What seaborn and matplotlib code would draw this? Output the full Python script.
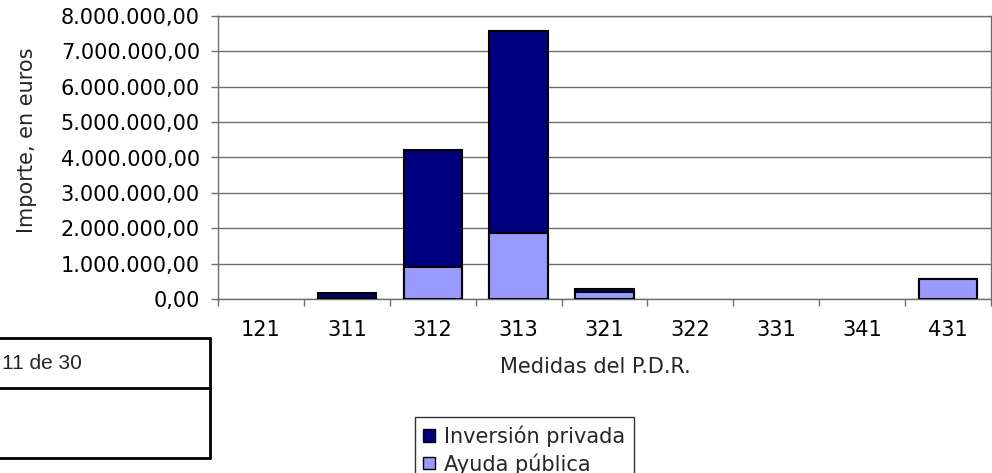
import numpy as np
import pandas as pd
import matplotlib
matplotlib.use("Agg")
import matplotlib.pyplot as plt
import seaborn as sns
from matplotlib.lines import Line2D
from matplotlib.patches import Patch
from matplotlib.ticker import FuncFormatter, FixedLocator

# Datos
medidas = ["121", "311", "312", "313", "321", "322", "331", "341", "431"]
ayuda_publica = [0, 30000, 912000, 1860000, 190000, 0, 0, 0, 556000]
inversion_privada = [0, 130000, 3300000, 5710000, 85000, 0, 0, 0, 0]

COLOR_PRIVADA = "#000080"
COLOR_AYUDA = "#9999FF"
GRIS = "#6e6e6e"
FS = 15

sns.set_theme(style="white")
plt.rcParams["font.family"] = ["DejaVu Sans"]

df = pd.DataFrame({
    "medida": medidas,
    "ayuda": ayuda_publica,
    "privada": inversion_privada,
})
df["total"] = df["ayuda"] + df["privada"]

W, H = 992, 473
fig = plt.figure(figsize=(W / 100, H / 100), dpi=100)
ax = fig.add_axes([218 / W, 1 - 299 / H, (991 - 218) / W, (299 - 16) / H])

# barras apiladas: total (oscuro) y encima la ayuda pública (claro)
sns.barplot(data=df, x="medida", y="total", order=medidas, color=COLOR_PRIVADA,
            saturation=1, width=0.68, edgecolor="black", linewidth=1.5,
            errorbar=None, ax=ax, zorder=3)
sns.barplot(data=df, x="medida", y="ayuda", order=medidas, color=COLOR_AYUDA,
            saturation=1, width=0.68, edgecolor="black", linewidth=1.5,
            errorbar=None, ax=ax, zorder=3)
for p in ax.patches:
    if p.get_height() == 0:
        p.set_linewidth(0)

ax.set_xlim(-0.5, len(medidas) - 0.5)
ax.set_ylim(0, 8000000)
ax.set_yticks(np.arange(0, 8000001, 1000000))
ax.yaxis.set_major_formatter(FuncFormatter(
    lambda v, p: f"{v:,.2f}".replace(",", "X").replace(".", ",").replace("X", ".")))

ax.yaxis.grid(True, color=GRIS, lw=1)
ax.set_axisbelow(True)
for s in ax.spines.values():
    s.set_color(GRIS)
    s.set_linewidth(1)
    s.set_visible(True)

ax.xaxis.set_minor_locator(FixedLocator(np.arange(-0.5, len(medidas), 1.0)))
ax.tick_params(axis="x", which="major", length=0, pad=15, labelsize=FS, colors="black")
ax.tick_params(axis="x", which="minor", length=5, width=1, color=GRIS, direction="out",
               bottom=True)
ax.tick_params(axis="y", which="major", length=5, width=1, color=GRIS, direction="out",
               left=True, pad=8, labelsize=FS, labelcolor="black")
ax.set_xlabel("")
ax.set_ylabel("")

fig.text(595 / W, 1 - 367 / H, "Medidas del P.D.R.", ha="center", va="center", fontsize=FS)
fig.text(27 / W, 1 - 140 / H, "Importe, en euros", ha="center", va="center",
         rotation=90, fontsize=FS)

handles = [
    Patch(facecolor=COLOR_PRIVADA, edgecolor="black", linewidth=1),
    Patch(facecolor=COLOR_AYUDA, edgecolor="black", linewidth=1),
]
leg = fig.legend(handles, ["Inversión privada", "Ayuda pública"],
                 loc="upper left", bbox_to_anchor=(415 / W, 1 - 417 / H),
                 fontsize=FS, frameon=True, fancybox=False, borderpad=0.4,
                 handlelength=0.55, handleheight=0.55, handletextpad=0.45,
                 labelspacing=0.3, borderaxespad=0)
leg.get_frame().set_edgecolor("black")
leg.get_frame().set_linewidth(1)

# recuadro de pie de página superpuesto
y_top, y_mid, y_bot, x_right = 1 - 338 / H, 1 - 388 / H, 1 - 458 / H, 210 / W
for y in (y_top, y_mid, y_bot):
    fig.add_artist(Line2D([-0.01, x_right], [y, y], color="black", lw=2))
fig.add_artist(Line2D([x_right, x_right], [y_bot, y_top], color="black", lw=2))
fig.text(2 / W, 1 - 363 / H, "11 de 30", ha="left", va="center", fontsize=FS,
         family="Liberation Sans")

fig.savefig("out.png", dpi=100)
